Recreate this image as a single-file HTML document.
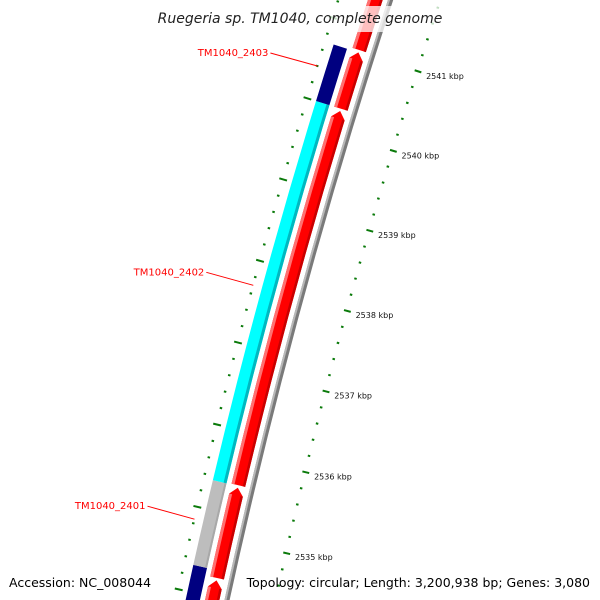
<!DOCTYPE html>
<html><head><meta charset="utf-8"><style>
html,body{margin:0;padding:0;background:#fff}
svg{display:block}
text{font-family:"DejaVu Sans","Liberation Sans",sans-serif}
</style></head><body>
<svg id="chart" width="600" height="600" viewBox="0 0 600 600" xmlns="http://www.w3.org/2000/svg">
<g id="rings"></g>
<g id="ticks"></g>
<g id="labels"></g>
<rect x="158" y="6" width="284" height="26" fill="#fff" opacity="0.75"/>
<text x="300" y="23" font-size="14" font-style="italic" text-anchor="middle" fill="#222">Ruegeria sp. TM1040, complete genome</text>
<text x="9" y="587" font-size="12.5" fill="#000">Accession: NC_008044</text>
<text x="590" y="587" font-size="12.5" text-anchor="end" fill="#000">Topology: circular; Length: 3,200,938 bp; Genes: 3,080</text>
</svg>
<script>
// data (kbp)
const majorTicks = [2535, 2536, 2537, 2538, 2539, 2540, 2541];
const tickLabels = ["2535 kbp","2536 kbp","2537 kbp","2538 kbp","2539 kbp","2540 kbp","2541 kbp"];
const forwardGeneStarts = [2533.6, 2534.53, 2535.66, 2540.3];
const forwardGeneEnds   = [2534.5, 2535.63, 2540.27, 2541.0];
const reverseGeneStarts = [2533.6, 2534.62, 2535.65, 2540.3];
const reverseGeneEnds   = [2534.62, 2535.65, 2540.3, 2541.0];
const reverseGeneColors = ["#000080", "#bdbdbd", "#00ffff", "#000080"];
const geneNames = ["TM1040_2401", "TM1040_2402", "TM1040_2403"];
const geneLabelPos = [2535.15, 2538.0, 2540.7];

const NS = "http://www.w3.org/2000/svg";
const CX = 6187, CY = 1902;
function ang(k){ return Math.PI + 0.2660 + (k - 2538) * 0.01376; }
function pt(r, k){ const a = ang(k); return [CX + r*Math.cos(a), CY + r*Math.sin(a)]; }
function f(p){ return p[0].toFixed(2)+","+p[1].toFixed(2); }
function arcTo(r, k0, k1){ const p = pt(r,k1); return "A"+r+","+r+" 0 0,"+(k1>k0?1:0)+" "+f(p); }
function sector(r0, r1, k0, k1){
  return "M"+f(pt(r0,k0))+arcTo(r0,k0,k1)+"L"+f(pt(r1,k1))+arcTo(r1,k1,k0)+"Z";
}
function arrow(r0, r1, k0, k1){
  const t = 0.09, rm = (r0+r1)/2;
  return "M"+f(pt(r0,k0))+arcTo(r0,k0,k1-t)+"L"+f(pt(rm,k1))+"L"+f(pt(r1,k1-t))+arcTo(r1,k1-t,k0)+"Z";
}
function add(parent, tag, attrs){ const e = document.createElementNS(NS, tag); for (const a in attrs) e.setAttribute(a, attrs[a]); parent.appendChild(e); return e; }
const rings = document.getElementById("rings");
const ticks = document.getElementById("ticks");
const labels = document.getElementById("labels");

let bb = add(rings, "path", {d: sector(6098, 6103, 2533.5, 2543), fill: "#7a7a7a"});


let bb2 = add(rings, "path", {d: sector(6101, 6103, 2533.5, 2543), fill: "#b8b8b8"});



function redGene(k0, k1, isArrow){
  const g = add(rings, "g", {});
  
  
  const shape = isArrow ? arrow : sector;
  add(g, "path", {d: shape(6108, 6122, k0, k1), fill: "#ff0000"});
  add(g, "path", {d: sector(6119, 6122, k0, k1 - 0.09), fill: "#ff7070"});
  add(g, "path", {d: sector(6108, 6110.5, k0, k1 - 0.09), fill: "#c80000"});
}
for (let i = 0; i < forwardGeneStarts.length; i++) redGene(forwardGeneStarts[i], forwardGeneEnds[i], true);
redGene(forwardGeneEnds[3] + 0.03, 2543, false);

for (let i = 0; i < reverseGeneStarts.length; i++){
  const g = add(rings, "g", {});
  
  
  const c = reverseGeneColors[i];
  add(g, "path", {d: sector(6127, 6141, reverseGeneStarts[i], reverseGeneEnds[i]), fill: c});
  if (c === "#00ffff") add(g, "path", {d: sector(6127, 6130, reverseGeneStarts[i], reverseGeneEnds[i]), fill: "#00b8c0"});
  if (c === "#bdbdbd") add(g, "path", {d: sector(6127, 6129, reverseGeneStarts[i], reverseGeneEnds[i]), fill: "#a8a8a8"});
}

for (let k = 2534.4; k <= 2542.01; k += 0.2){
  const isMaj = Math.abs(k - Math.round(k)) < 0.01;
  const l = add(ticks, "line", {});
  const p0 = pt(isMaj ? 6049 : 6052, k), p1 = pt(isMaj ? 6056 : 6054.5, k);
  l.setAttribute("x1", p0[0]); l.setAttribute("y1", p0[1]); l.setAttribute("x2", p1[0]); l.setAttribute("y2", p1[1]);
  l.setAttribute("stroke", "#0a7a0a"); l.setAttribute("stroke-width", "2");
  
  
}
majorTicks.forEach((k, i) => {
  const p = pt(6044, k);
  const t = add(ticks, "text", {x: p[0].toFixed(1), y: (p[1] + 5).toFixed(1), "font-size": "8", fill: "#111"});
  t.textContent = tickLabels[i];
  
  
});
for (let k = 2533.9; k <= 2542.01; k += 0.2){
  const isMaj = Math.abs((k - 0.3) - Math.round(k - 0.3)) < 0.01;
  const l = add(ticks, "line", {});
  const p0 = pt(isMaj ? 6146 : 6149, k), p1 = pt(isMaj ? 6154 : 6151.5, k);
  l.setAttribute("x1", p0[0]); l.setAttribute("y1", p0[1]); l.setAttribute("x2", p1[0]); l.setAttribute("y2", p1[1]);
  l.setAttribute("stroke", "#0a7a0a"); l.setAttribute("stroke-width", "2");
  
  
}

geneNames.forEach((n, i) => {
  const p = pt(6150, geneLabelPos[i]);
  const lx = p[0] - 47, ly = p[1] - 13;
  const l = add(labels, "line", {x1: p[0].toFixed(1), y1: p[1].toFixed(1), x2: lx.toFixed(1), y2: ly.toFixed(1), stroke: "#ff0000", "stroke-width": "1"});
  
  
  const t = add(labels, "text", {x: (lx - 2).toFixed(1), y: (ly + 3).toFixed(1), "font-size": "10", "text-anchor": "end", fill: "#ff0000"});
  t.textContent = n;
  
  
});
</script>
</body></html>
